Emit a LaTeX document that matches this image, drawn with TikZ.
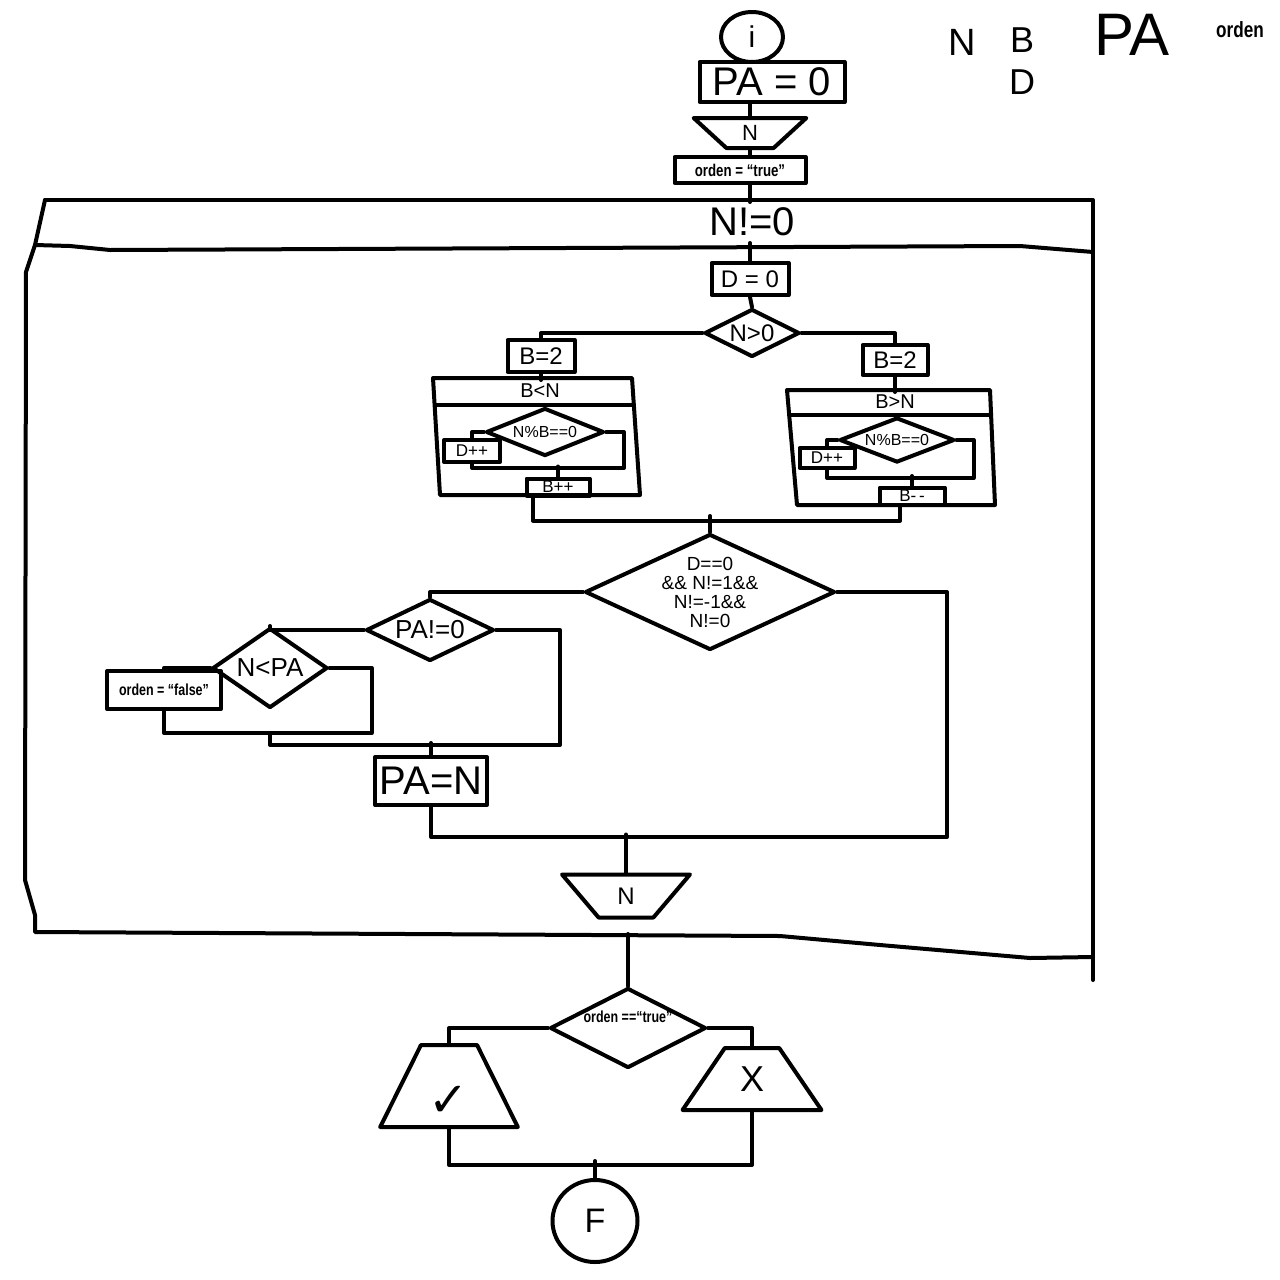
\documentclass[tikz,border=0pt]{standalone}
\usepackage{fontspec}
\setmainfont{Liberation Sans}
\newfontfamily\narrowfont{Liberation Sans}[FakeStretch=0.78]
\newfontfamily\symfont{DejaVu Sans}
\usetikzlibrary{shapes.geometric}
\newcommand{\fsz}[1]{\fontsize{#1}{#1}\selectfont}

\begin{document}
\begin{tikzpicture}[x=1pt,y=-1pt,line width=4pt,line join=round,line cap=round,
  box/.style={draw,rectangle,inner sep=0pt},
  term/.style={draw,ellipse,inner sep=0pt},
  cond/.style={draw,diamond,aspect=2,inner sep=0pt},
  inp/.style={draw,trapezium,shape border rotate=180,trapezium stretches=true,inner sep=0pt},
  outp/.style={draw,trapezium,trapezium stretches=true,inner sep=0pt},
  lab/.style={font=\narrowfont\bfseries\fsz{#1}},
  lab/.default=17]

% page
\fill [white] (0,0) rectangle (1280,1280);
\useasboundingbox (0,0) rectangle (1280,1280);

%% legend
\node (lgN) at (962,42) {\fsz{38}N};
\node (lgB) at (1022,40) {\fsz{36}B};
\node (lgD) at (1022,82) {\fsz{36}D};
\node (lgPA) at (1132,35) {\fsz{60}PA};
\node [lab=22] (lgord) at (1240,30) {orden};

%% top
\node [term,minimum width=62pt,minimum height=50pt,font=\fsz{30}] (start) at (752,37) {i};
\node [box,minimum width=145pt,minimum height=40pt,font=\fsz{40}] (pa0) at (772,82) {PA = 0};
\node [inp,minimum width=113pt,minimum height=30pt,trapezium left angle=54,trapezium right angle=54,font=\fsz{22}] (readN) at (750,133) {N};
\node [box,lab,minimum width=131pt,minimum height=26pt] (ordT) at (740,170) {orden = “true”};
\draw (readN.north) -- (readN.north |- pa0.south);
\draw (readN.south) -- (readN.south |- ordT.north);
\draw (ordT.south -| readN) -- ++(0,17);

%% while N!=0
\draw (45,200) -- (1093,200) -- (1093,980);
\draw (45,200) -- (35,245) -- (26,272) -- (25,880) -- (35,915) -- (35,932) -- (780,936) -- (880,945) -- (1030,958) -- (1093,957);
\draw (35,245) -- (70,246) -- (110,250) -- (1020,246) -- (1093,252);
\node [font=\fsz{40}] (wcond) at (752,222) {N!=0};

% D=0 and N>0
\node [box,minimum width=77pt,minimum height=32pt,font=\fsz{24}] (d0) at (750,279) {D = 0};
\node [cond,minimum width=95pt,minimum height=48pt,font=\fsz{24}] (npos) at (752,333) {N>0};
\draw (d0.north) -- ++(0,-18);
\draw (d0.south) -- (npos.north);

% left: B<N
\node [box,minimum width=67pt,minimum height=32pt,font=\fsz{24}] (b2L) at (541,356) {B=2};
\draw (npos.west) -| (b2L.north);
\draw (b2L.south) -- ++(0,6);
\draw (433,378) -- (632,378) -- (640,495) -- (440,495) -- cycle;
\draw (435,405) -- (634,405);
\node [font=\fsz{20}] (wL) at (540,391) {B<N};
\node [cond,aspect=2.5,minimum width=118pt,minimum height=48pt,font=\fsz{16}] (modL) at (545,432) {N\%B==0};
\node [box,minimum width=56pt,minimum height=22pt,font=\fsz{17}] (dppL) at (472,451) {D++};
\node [box,minimum width=63pt,minimum height=17pt,font=\fsz{17}] (bppL) at (558,487) {B++};
\draw (modL.west) -| (dppL.north);
\draw (modL.east) -- ++(18,0) -- ++(0,36) -| (dppL.south);
\draw (bppL.north) -- ++(0,-10);

% right: B>N
\node [box,minimum width=65pt,minimum height=30pt,font=\fsz{24}] (b2R) at (895,360) {B=2};
\draw (npos.east) -| (b2R.north);
\draw (b2R.south) -- ++(0,15);
\draw (787,390) -- (990,390) -- (995,505) -- (797,505) -- cycle;
\draw (789,415) -- (991,415);
\node [font=\fsz{20}] (wR) at (895,402) {B>N};
\node [cond,aspect=2.5,minimum width=115pt,minimum height=45pt,font=\fsz{16}] (modR) at (897,440) {N\%B==0};
\node [box,minimum width=55pt,minimum height=20pt,font=\fsz{17}] (dppR) at (827,458) {D++};
\node [box,minimum width=65pt,minimum height=17pt,font=\fsz{17}] (bmmR) at (912,496) {B-\,-};
\draw (modR.west) -| (dppR.north);
\draw (modR.east) -- ++(17,0) -- ++(0,38) -| (dppR.south);
\draw (bmmR.north) -- ++(0,-9.5);

% is it prime
\node [cond,inner sep=-25pt,minimum width=250pt,minimum height=116pt,align=center,font=\fsz{19}] (cond) at (710,592) {D==0\\\&\& N!=1\&\&\\N!=-1\&\&\\N!=0};
\draw ([xshift=-25pt]bppL.south) -- ++(0,23) -| ([xshift=-12pt]bmmR.south);
\draw (cond.north) -- ++(0,-16);

\node [cond,minimum width=128pt,minimum height=62pt,font=\fsz{26}] (pan0) at (430,630) {PA!=0};
\node [cond,minimum width=115pt,minimum height=80pt,font=\fsz{26}] (nlpa) at (270,668) {N<PA};
\node [box,lab=16,minimum width=114pt,minimum height=38pt] (fals) at (164,690) {orden = “false”};
\node [box,minimum width=112pt,minimum height=48pt,font=\fsz{40}] (paN) at (431,781) {PA=N};
\draw (cond.west) -| (pan0.north);
\draw (pan0.west) -| (nlpa.north);
\draw (nlpa.west) -| (fals.north);
\draw (nlpa.east) -- ++(42,0) -- ++(0,65) -| (fals.south);
\draw (pan0.east) -- ++(64,0) -- ++(0,115) -| (nlpa.south |- 0,733);
\draw (paN.north) -- ++(0,-12);
\draw (paN.south) -- ++(0,30) -| ([xshift=110pt]cond.east) -- (cond.east);

% read next N
\node [inp,minimum width=128pt,minimum height=43pt,trapezium left angle=55,trapezium right angle=55,font=\fsz{24}] (outN) at (626,896) {N};
\draw (outN.north) -- ++(0,-38);

%% result
\node [cond,minimum width=156pt,minimum height=80pt,label={[lab=16,yshift=11pt]center:orden ==“true”}] (fin) at (628,1028) {\strut};
\node [outp,minimum width=138pt,minimum height=82pt,trapezium left angle=64,trapezium right angle=64,text height=60pt,text depth=0pt,font=\symfont\fsz{48}] (okT) at (449,1086) {✓};
\node [outp,minimum width=139pt,minimum height=62pt,trapezium left angle=53,trapezium right angle=53,font=\fsz{36}] (noT) at (752,1079) {X};
\node [term,minimum width=85pt,minimum height=82pt,font=\fsz{34}] (termF) at (595,1221) {F};
\draw (fin.north) -- ++(0,-52);
\draw (fin.west) -| (okT.north);
\draw (fin.east) -| (noT.north);
\draw (okT.south) -- ++(0,36) -| (noT.south);
\draw (termF.north) -- ++(0,-17);

\end{tikzpicture}
\end{document}
